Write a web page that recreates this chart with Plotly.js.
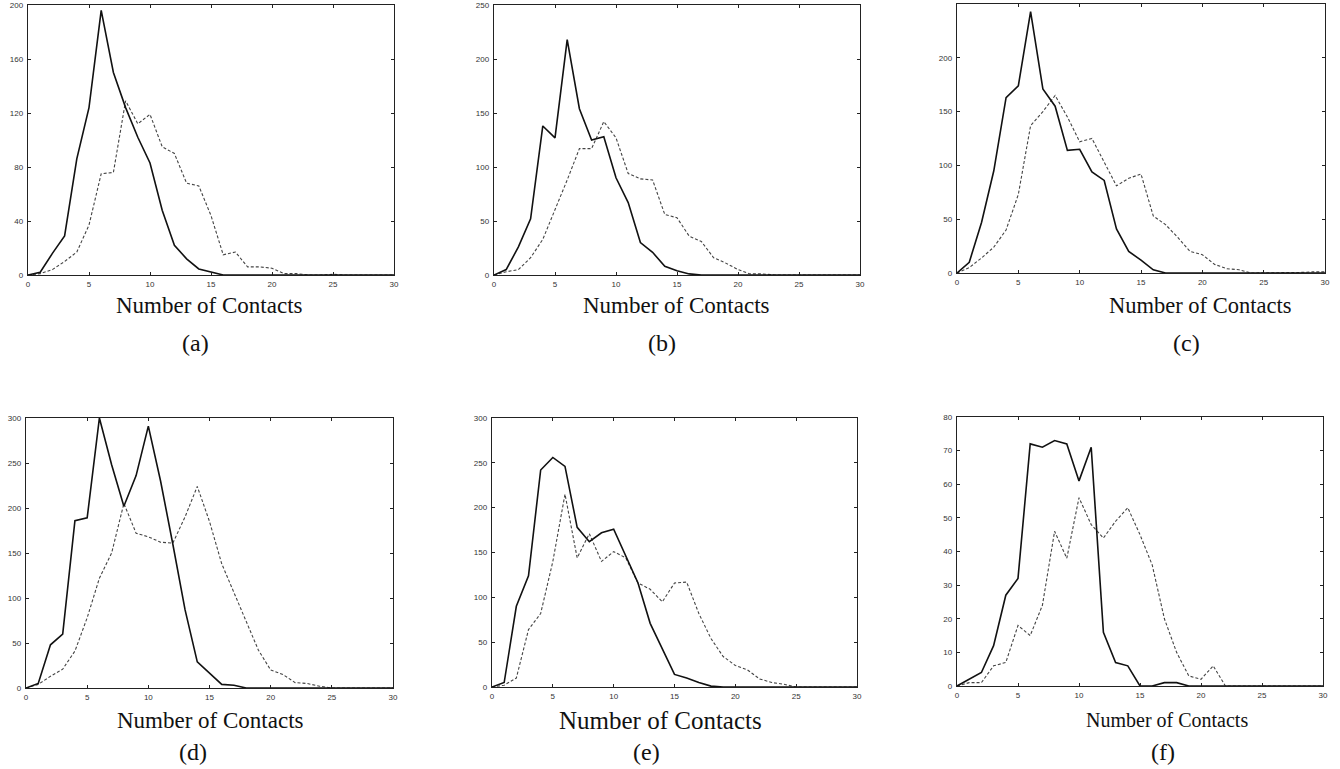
<!DOCTYPE html>
<html>
<head>
<meta charset="utf-8">
<script src="https://cdn.plot.ly/plotly-3.0.1.min.js"></script>
<style>html,body{margin:0;padding:0;background:#fff;}#chart{width:1340px;height:769px;}</style>
</head>
<body>
<div id="chart"></div>
<script>
// Number of contacts (x) shared by all panels
const contacts = [0,1,2,3,4,5,6,7,8,9,10,11,12,13,14,15,16,17,18,19,20,21,22,23,24,25,26,27,28,29,30];

// Panel (a)
const aSolid  = [0,2,16,29,86,124,196,150,124,102,83,48,22,12,4.5,2,0,0,0,0,0,0,0,0,0,0,0,0,0,0,0];
const aDashed = [0,1,4,10,17,37,75,76,129,112,119,95,90,68,66,44,15,17,6,6,5,1,1,0,0,0.5,0,0,0,0,0];
// Panel (b)
const bSolid  = [0,5,26,52,138,127,218,154,125,128,90,67,30,21,8,4,1,0,0,0,0,0,0,0,0,0,0,0,0,0,0];
const bDashed = [0,3,5,16,33,60,88,117,117,142,127,94,89,88,56,53,36,31,16,11,5,1,1,0,0,0,0,0,0,0,0];
// Panel (c)
const cSolid  = [0,10,47,95,163,174,243,171,155,114,115,94,86,41,20,12,3,0,0,0,0,0,0,0,0,0,0,0,0,0,0];
const cDashed = [0,5,14,24,40,73,137,150,165,145,122,125,103,81,88,92,53,45,33,20,17,8,4,3,0,0,0,0,0.5,1,1];
// Panel (d)
const dSolid  = [0,5,48,60,186,189,300,248,202,236,291,230,160,87,29,16,4,3,0,0,0,0,0,0,0,0,0,0,0,0,0];
const dDashed = [0,4,13,21,41,78,122,150,205,172,168,162,161,190,224,185,138,107,74,42,20,15,6,5,2,0,0,0,0,0,0];
// Panel (e)
const eSolid  = [0,5,90,124,242,256,246,178,162,172,176,146,116,71,43,14,10,5,1,0,0,0,0,0,0,0,0,0,0,0,0];
const eDashed = [0,2,10,64,82,140,215,144,171,140,151,144,116,109,95,116,117,82,54,34,24,19,9,5,3,0,0,0,0,0,0];
// Panel (f)
const fSolid  = [0,2,4,12,27,32,72,71,73,72,61,71,16,7,6,0,0,1,1,0,0,0,0,0,0,0,0,0,0,0,0];
const fDashed = [0,1,1,6,7,18,15,24,46,38,56,48,44,49,53,45,36,20,10,3,2,6,0,0,0,0,0,0,0,0,0];

const panelLabels = ['(a)','(b)','(c)','(d)','(e)','(f)'];
const xTitle = 'Number of Contacts';
const yMax   = [200,250,250,300,300,80];
const yStep  = [40,50,50,50,50,10];
const solids  = [aSolid,bSolid,cSolid,dSolid,eSolid,fSolid];
const dasheds = [aDashed,bDashed,cDashed,dDashed,eDashed,fDashed];

// layout geometry (pixels)
const W = 1340, H = 769;
const boxes = [
  {l:28, r:394, t:5,   b:275},
  {l:494,r:860, t:5,   b:275},
  {l:957,r:1325,t:4,   b:273},
  {l:26, r:393, t:418, b:688},
  {l:492,r:857, t:418, b:687},
  {l:957,r:1323,t:417, b:686}
];
const titlePos = [
  {x:209, y:305, lx:195, ly:343, fs:23},
  {x:676, y:305, lx:662, ly:343, fs:23},
  {x:1200,y:305, lx:1186,ly:343, fs:22.5},
  {x:210, y:720, lx:193, ly:752, fs:23},
  {x:660, y:720, lx:646, ly:752, fs:25},
  {x:1167,y:720, lx:1163,ly:752, fs:20}
];

const traces = [];
const layout = {
  width: W, height: H,
  margin: {l:0,r:0,t:0,b:0},
  paper_bgcolor: '#fff', plot_bgcolor: '#fff',
  showlegend: false,
  annotations: []
};

for (let i = 0; i < 6; i++) {
  const n = i === 0 ? '' : String(i+1);
  const xa = 'x' + n, ya = 'y' + n;
  traces.push({x: contacts, y: dasheds[i], xaxis: xa, yaxis: ya, mode: 'lines',
    line: {color: '#444', width: 1.1, dash: '3px,2px'}, hoverinfo: 'skip'});
  traces.push({x: contacts, y: solids[i], xaxis: xa, yaxis: ya, mode: 'lines',
    line: {color: '#111', width: 1.6}, hoverinfo: 'skip'});
  const bx = boxes[i];
  const axCommon = {
    showgrid: false, zeroline: false, showline: true, linecolor: '#222', linewidth: 1.2,
    mirror: 'ticks', ticks: 'inside', ticklen: 3, tickcolor: '#222',
    tickfont: {family: 'Liberation Sans, Arial, sans-serif', size: 8, color: '#333'}
  };
  layout['xaxis' + n] = Object.assign({}, axCommon, {
    domain: [bx.l / W, bx.r / W], range: [0, 30], tickvals: [0,5,10,15,20,25,30],
    anchor: ya, ticklabelstandoff: 1
  });
  const yt = [];
  for (let v = 0; v <= yMax[i]; v += yStep[i]) yt.push(v);
  layout['yaxis' + n] = Object.assign({}, axCommon, {
    domain: [1 - bx.b / H, 1 - bx.t / H], range: [0, yMax[i]], tickvals: yt,
    anchor: xa, ticklabelstandoff: 2
  });
  const tp = titlePos[i];
  layout.annotations.push({text: xTitle, x: tp.x / W, y: 1 - tp.y / H, xref: 'paper', yref: 'paper',
    showarrow: false, xanchor: 'center', yanchor: 'middle', borderpad: 0,
    font: {family: 'Liberation Serif, Times New Roman, serif', size: tp.fs, color: '#111'}});
  layout.annotations.push({text: panelLabels[i], x: tp.lx / W, y: 1 - tp.ly / H, xref: 'paper', yref: 'paper',
    showarrow: false, xanchor: 'center', yanchor: 'middle', borderpad: 0,
    font: {family: 'Liberation Serif, Times New Roman, serif', size: 24, color: '#111'}});
}

Plotly.newPlot('chart', traces, layout, {staticPlot: true, displayModeBar: false});
</script>
</body>
</html>
